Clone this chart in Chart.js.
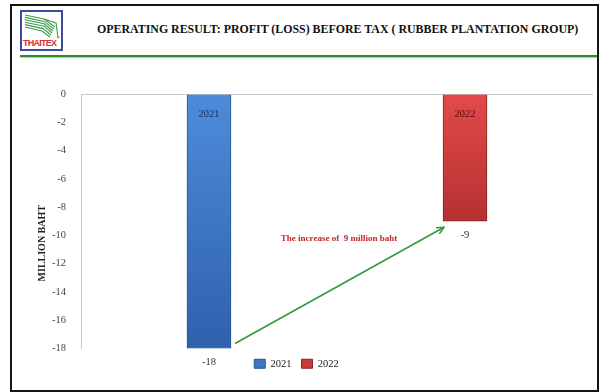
<!DOCTYPE html>
<html>
<head>
<meta charset="utf-8">
<title>Operating result: profit (loss) before tax</title>
<script src="https://cdn.jsdelivr.net/npm/chart.js@4.4.1/dist/chart.umd.min.js"></script>
<style>
  html, body { margin: 0; padding: 0; background: #fff; }
  body { position: relative; width: 600px; height: 392px; overflow: hidden; font-family: "Liberation Serif", "Times New Roman", serif; }
  #frame { position: absolute; left: 10px; top: 4px; width: 585px; height: 384px; border: 2px solid #151515; }
  #logo { position: absolute; left: 20px; top: 10px; }
  #title { position: absolute; left: 97px; top: 22px; font-size: 11.9px; font-weight: bold; color: #111; white-space: nowrap; }
  #rule { position: absolute; left: 20px; top: 55px; width: 577px; height: 2px; background: #2e8a2e; box-shadow: 0 1px 1px rgba(0,0,0,0.25); }
  #chart { position: absolute; left: 0; top: 0; }
</style>
</head>
<body>
<div id="frame"></div>
<svg id="logo" width="43" height="41" viewBox="0 0 43 41">
  <rect x="1" y="1" width="41" height="39" fill="#fff" stroke="#3b4c9e" stroke-width="2"/>
  <g fill="none" stroke="#3f9a4a" stroke-width="1.1">
    <path d="M5 5 L24 9 L35 17"/>
    <path d="M5 7.4 L24 11.4 L34 19"/>
    <path d="M5 9.8 L24 13.8 L33 21"/>
    <path d="M5 12.2 L24 16.2 L32 23"/>
    <path d="M5 14.6 L23 18.6 L31 25"/>
    <path d="M5 17 L22 21 L30 27"/>
    <path d="M24 9 L36 13 L38 28"/>
  </g>
  <text x="3" y="36" font-family="Liberation Sans, Arial, sans-serif" font-size="9" font-weight="bold" fill="#d63030" textLength="34">THAITEX</text>
  <text x="37" y="29" font-family="Liberation Sans, Arial, sans-serif" font-size="4" fill="#d63030">®</text>
</svg>
<div id="title">OPERATING RESULT: PROFIT (LOSS) BEFORE TAX ( RUBBER PLANTATION GROUP)</div>
<div id="rule"></div>
<canvas id="chart" width="600" height="392"></canvas>
<script>
// risultato operativo, milioni di baht
const years = ["2021", "2022"];
const result2021 = [-18, null];
const result2022 = [null, -9];
const yMin = -18;
const yMax = 0;
const yStep = 2;
const axisTitle = "MILLION BAHT";

const FONT = "'Liberation Serif', 'Times New Roman', serif";
Chart.defaults.font.family = FONT;
Chart.defaults.color = "#333";

// colori barre: [alto, basso, bordo, testo dentro la barra, legenda]
const blue = ["#4d8cda", "#2f61ac", "#2a558f", "#1c2d55", "#3d75c4"];
const red = ["#e24a4a", "#b53131", "#8c2222", "#4a0e0e", "#c83a3a"];

function barFill(colors) {
  return function (c) {
    const chart = c.chart;
    if (!chart.chartArea || c.raw === null || c.raw === undefined) return colors[0];
    const y = chart.scales.y;
    const g = chart.ctx.createLinearGradient(0, y.getPixelForValue(0), 0, y.getPixelForValue(c.raw));
    g.addColorStop(0, colors[0]);
    g.addColorStop(1, colors[1]);
    return g;
  };
}

// etichette, freccia e nota
const decorations = {
  id: "decorations",
  afterDatasetsDraw(chart) {
    const ctx = chart.ctx;
    const y = chart.scales.y;
    const area = chart.chartArea;
    const names = [blue[3], red[3]];
    const ends = [];

    ctx.save();
    ctx.textAlign = "center";
    ctx.textBaseline = "middle";
    chart.data.datasets.forEach((ds, di) => {
      const meta = chart.getDatasetMeta(di);
      meta.data.forEach((bar, i) => {
        const v = ds.data[i];
        if (v === null) return;
        ctx.font = "10.5px " + FONT;
        ctx.fillStyle = names[di];
        ctx.fillText(ds.label, bar.x, y.getPixelForValue(0) + 20);
        ctx.fillStyle = "#333";
        ctx.fillText(String(v), bar.x, bar.y + 14);
        ends.push({ bar: bar, v: v });
      });
    });

    // freccia verde dalla barra 2021 alla 2022
    const a = ends[0].bar;
    const b = ends[1].bar;
    const x1 = a.x + a.width / 2 + 4;
    const y1 = a.y - 5;
    const x2 = b.x - b.width / 2 + 1;
    const y2 = b.y + 6;
    ctx.strokeStyle = "#2f9a3a";
    ctx.lineWidth = 1.5;
    ctx.beginPath();
    ctx.moveTo(x1, y1);
    ctx.lineTo(x2, y2);
    ctx.stroke();
    const ang = Math.atan2(y2 - y1, x2 - x1);
    const head = 8;
    ctx.beginPath();
    ctx.moveTo(x2 - head * Math.cos(ang - 0.45), y2 - head * Math.sin(ang - 0.45));
    ctx.lineTo(x2, y2);
    ctx.lineTo(x2 - head * Math.cos(ang + 0.45), y2 - head * Math.sin(ang + 0.45));
    ctx.stroke();

    // nota sull'aumento
    const diff = ends[1].v - ends[0].v;
    ctx.font = "bold 9px " + FONT;
    ctx.fillStyle = "#c4262c";
    ctx.fillText("The increase of  " + diff + " million baht", (area.left + area.right) / 2 + 2, b.y + 17);

    // titolo asse y
    ctx.translate(42, (area.top + area.bottom) / 2 + 22);
    ctx.rotate(-Math.PI / 2);
    ctx.font = "bold 10px " + FONT;
    ctx.fillStyle = "#222";
    ctx.fillText(axisTitle, 0, 0);
    ctx.restore();
  }
};

new Chart(document.getElementById("chart"), {
  type: "bar",
  data: {
    labels: years,
    datasets: [
      {
        label: years[0],
        data: result2021,
        backgroundColor: barFill(blue),
        borderColor: blue[2],
        borderWidth: 1,
        barThickness: 44,
        skipNull: true
      },
      {
        label: years[1],
        data: result2022,
        backgroundColor: barFill(red),
        borderColor: red[2],
        borderWidth: 1,
        barThickness: 44,
        skipNull: true
      }
    ]
  },
  options: {
    responsive: false,
    animation: false,
    layout: { padding: { left: 0, top: 94, right: 7, bottom: 13 } },
    scales: {
      x: { display: false },
      y: {
        min: yMin,
        max: yMax,
        afterFit: function (scale) { scale.width = 81; },
        ticks: { stepSize: yStep, padding: 15, color: "#444", font: { size: 10.5 } },
        grid: {
          drawTicks: false,
          color: (c) => (c.tick && c.tick.value === 0 ? "#c9c9c9" : "rgba(0,0,0,0)")
        },
        border: { color: "#c9c9c9", width: 1 }
      }
    },
    plugins: {
      tooltip: { enabled: false },
      legend: {
        position: "bottom",
        labels: {
          boxWidth: 11,
          boxHeight: 9,
          padding: 10,
          color: "#222",
          font: { size: 10.5 },
          generateLabels: function (chart) {
            const items = Chart.defaults.plugins.legend.labels.generateLabels(chart);
            const fills = [blue[4], red[4]];
            const strokes = [blue[2], red[2]];
            items.forEach((it, i) => {
              it.fillStyle = fills[i];
              it.strokeStyle = strokes[i];
              it.lineWidth = 1;
            });
            return items;
          }
        }
      }
    }
  },
  plugins: [decorations]
});
</script>
</body>
</html>
